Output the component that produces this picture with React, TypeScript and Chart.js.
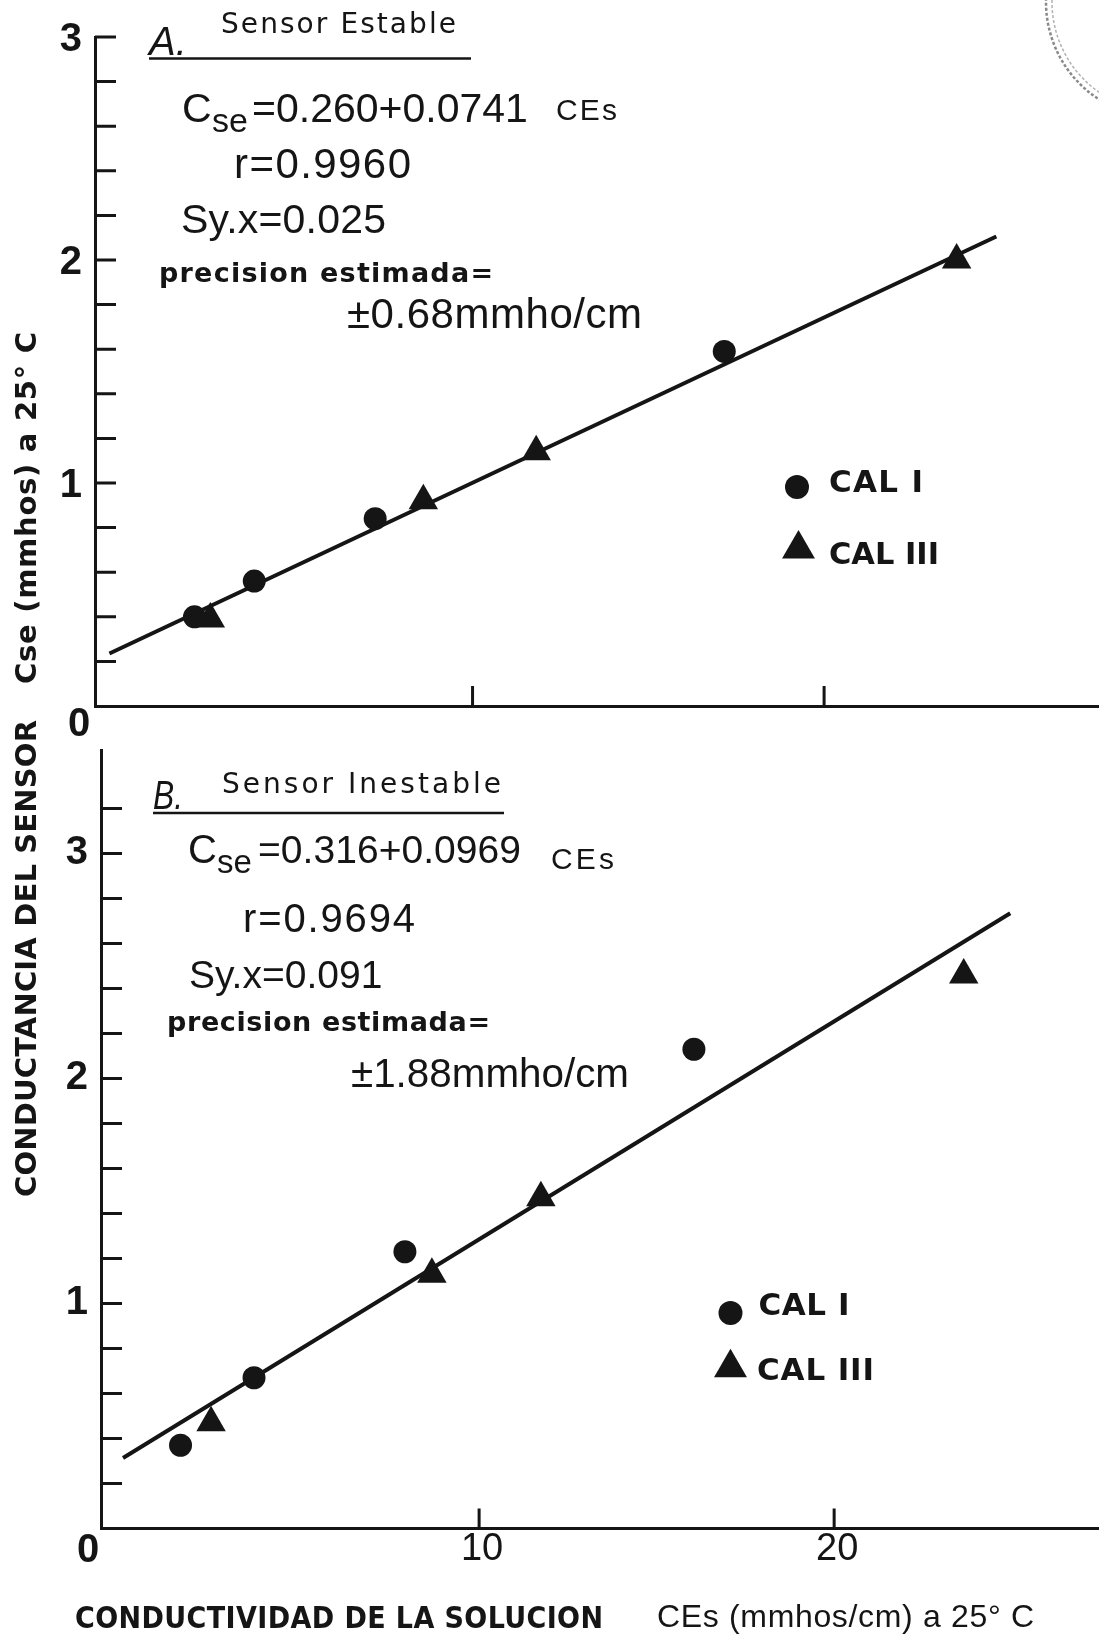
import React, { useEffect, useRef } from 'react';
import { Chart, registerables } from 'chart.js';

Chart.register(...registerables);

const INK = '#151515';
const W = 1099;
const H = 1636;

// ---------- Panel A: sensor estable ----------
const CAL_I_A_X = [2.09, 3.79, 7.23, 17.16];
const CAL_I_A_Y = [0.40, 0.56, 0.84, 1.59];
const CAL_III_A_X = [2.54, 8.6, 11.81, 23.77];
const CAL_III_A_Y = [0.39, 0.92, 1.14, 2.0];
const FIT_A = [0.26, 0.0741]; // intercept, slope
const FIT_A_SPAN = [-0.33, 24.9];
const STATS_A = { r: '0.9960', syx: '0.025', prec: '±0.68' };

// ---------- Panel B: sensor inestable ----------
const CAL_I_B_X = [1.59, 3.66, 7.91, 16.05];
const CAL_I_B_Y = [0.37, 0.67, 1.23, 2.13];
const CAL_III_B_X = [2.45, 8.67, 11.74, 23.65];
const CAL_III_B_Y = [0.47, 1.13, 1.47, 2.46];
const FIT_B = [0.316, 0.0969];
const FIT_B_SPAN = [-0.03, 24.96];
const STATS_B = { r: '0.9694', syx: '0.091', prec: '±1.88' };

// ---------- ticks ----------
const Y_TICKS_A = [0.2, 0.4, 0.6, 0.8, 1, 1.2, 1.4, 1.6, 1.8, 2, 2.2, 2.4, 2.6, 2.8, 3];
const Y_TICKS_B = [0.2, 0.4, 0.6, 0.8, 1, 1.2, 1.4, 1.6, 1.8, 2, 2.2, 2.4, 2.6, 2.8, 3, 3.2];
const X_TICKS = [10, 20];
const X_TICK_LABELS = ['10', '20'];

const SERIES_NAMES = ['CAL I', 'CAL III'];
const Y_TITLE = ['CONDUCTANCIA DEL SENSOR', 'Cse (mmhos) a 25° C'];
const X_TITLE = ['CONDUCTIVIDAD DE LA SOLUCION', 'CEs (mmhos/cm) a 25° C'];

const LIB = '"Liberation Sans", Arial, sans-serif';
const DJV = '"DejaVu Sans", sans-serif';

type Run = { text: string; x: number; y: number; w?: number; font: string };

function drawText(ctx: CanvasRenderingContext2D, r: Run) {
  ctx.save();
  ctx.font = r.font;
  ctx.fillStyle = INK;
  ctx.textAlign = 'left';
  ctx.textBaseline = 'alphabetic';
  const n = Array.from(r.text).length;
  const natural = ctx.measureText(r.text).width;
  if (r.w && n > 1 && Math.abs(r.w - natural) > 0.5) {
    if (r.w > natural && 'letterSpacing' in ctx) {
      (ctx as any).letterSpacing = `${(r.w - natural) / (n - 1)}px`;
      ctx.fillText(r.text, r.x, r.y);
    } else {
      ctx.translate(r.x, r.y);
      ctx.scale(r.w / natural, 1);
      ctx.fillText(r.text, 0, 0);
    }
  } else {
    ctx.fillText(r.text, r.x, r.y);
  }
  ctx.restore();
}

function drawVertical(ctx: CanvasRenderingContext2D, text: string, baseX: number, startY: number, endY: number, font: string) {
  ctx.save();
  ctx.translate(baseX, startY);
  ctx.rotate(-Math.PI / 2);
  drawText(ctx, { text, x: 0, y: 0, w: startY - endY, font });
  ctx.restore();
}

function drawMarker(ctx: CanvasRenderingContext2D, style: string, x: number, y: number, r: number) {
  ctx.save();
  ctx.fillStyle = INK;
  ctx.beginPath();
  if (style === 'circle') {
    ctx.arc(x, y, r, 0, Math.PI * 2);
  } else {
    const s = Math.sin((2 * Math.PI) / 3) * r;
    ctx.moveTo(x, y - r);
    ctx.lineTo(x + s, y + r / 2);
    ctx.lineTo(x - s, y + r / 2);
    ctx.closePath();
  }
  ctx.fill();
  ctx.restore();
}

// faint archive stamp partly visible in the top-right corner of the sheet
function drawStamp(ctx: CanvasRenderingContext2D) {
  ctx.save();
  ctx.setLineDash([3, 2]);
  ctx.lineWidth = 2.5;
  ctx.strokeStyle = 'rgba(60,60,60,0.6)';
  ctx.beginPath();
  ctx.arc(1162, 2, 116, Math.PI * 0.66, Math.PI * 1.02);
  ctx.stroke();
  ctx.lineWidth = 1.5;
  ctx.strokeStyle = 'rgba(60,60,60,0.4)';
  ctx.beginPath();
  ctx.arc(1162, 2, 110, Math.PI * 0.62, Math.PI * 1.02);
  ctx.stroke();
  ctx.restore();
}

type Layout = {
  letter: Run;
  underline: [number, number, number];
  title: Run;
  eqC: [number, number, number];
  eqSe: [number, number, number];
  eqRest: [number, number, number, number];
  ces: Run;
  r: [number, number, number, number];
  syx: [number, number, number, number];
  precLabel: Run;
  prec: [number, number, number, number];
  legendCircle: [number, number, number];
  legendTri: [number, number, number];
  legendText: [Run, Run];
  zero: [number, number, number];
};

function drawPanelText(ctx: CanvasRenderingContext2D, L: Layout, fit: number[], stats: { r: string; syx: string; prec: string }) {
  drawText(ctx, L.letter);
  ctx.save();
  ctx.strokeStyle = INK;
  ctx.lineWidth = 2.5;
  ctx.beginPath();
  ctx.moveTo(L.underline[0], L.underline[2]);
  ctx.lineTo(L.underline[1], L.underline[2]);
  ctx.stroke();
  ctx.restore();
  drawText(ctx, L.title);

  const eq = `=${fit[0].toFixed(3)}+${fit[1].toFixed(4)}`;
  drawText(ctx, { text: 'C', x: L.eqC[0], y: L.eqC[1], font: `${L.eqC[2]}px ${LIB}` });
  drawText(ctx, { text: 'se', x: L.eqSe[0], y: L.eqSe[1], font: `${L.eqSe[2]}px ${LIB}` });
  drawText(ctx, { text: eq, x: L.eqRest[0], y: L.eqRest[1], w: L.eqRest[2], font: `${L.eqRest[3]}px ${LIB}` });
  drawText(ctx, L.ces);
  drawText(ctx, { text: `r=${stats.r}`, x: L.r[0], y: L.r[1], w: L.r[2], font: `${L.r[3]}px ${LIB}` });
  drawText(ctx, { text: `Sy.x=${stats.syx}`, x: L.syx[0], y: L.syx[1], w: L.syx[2], font: `${L.syx[3]}px ${LIB}` });
  drawText(ctx, L.precLabel);
  drawText(ctx, { text: `${stats.prec}mmho/cm`, x: L.prec[0], y: L.prec[1], w: L.prec[2], font: `${L.prec[3]}px ${LIB}` });

  drawMarker(ctx, 'circle', L.legendCircle[0], L.legendCircle[1], L.legendCircle[2]);
  drawMarker(ctx, 'triangle', L.legendTri[0], L.legendTri[1], L.legendTri[2]);
  drawText(ctx, L.legendText[0]);
  drawText(ctx, L.legendText[1]);

  ctx.save();
  ctx.fillStyle = INK;
  ctx.font = `bold ${L.zero[2]}px ${LIB}`;
  ctx.textAlign = 'center';
  ctx.textBaseline = 'alphabetic';
  ctx.fillText('0', L.zero[0], L.zero[1]);
  ctx.restore();
}

const LAYOUT_A: Layout = {
  letter: { text: 'A.', x: 149, y: 55, w: 38, font: `italic 40px ${LIB}` },
  underline: [149, 471, 58.5],
  title: { text: 'Sensor Estable', x: 221, y: 33, w: 235, font: `28px ${DJV}` },
  eqC: [182, 122, 41],
  eqSe: [212, 132, 34],
  eqRest: [252, 122, 276, 41],
  ces: { text: 'CEs', x: 556, y: 120, w: 61, font: `30px ${LIB}` },
  r: [234, 178, 177, 42],
  syx: [181, 233, 205, 41],
  precLabel: { text: 'precision estimada=', x: 159, y: 282, w: 334, font: `bold 27px ${DJV}` },
  prec: [347, 328, 295, 42],
  legendCircle: [797, 487, 12],
  legendTri: [798.5, 549, 19],
  legendText: [
    { text: SERIES_NAMES[0], x: 829, y: 492, w: 94, font: `bold 31px ${DJV}` },
    { text: SERIES_NAMES[1], x: 829, y: 564, w: 110, font: `bold 31px ${DJV}` },
  ],
  zero: [79, 736, 40],
};

const LAYOUT_B: Layout = {
  letter: { text: 'B.', x: 153, y: 809, w: 30, font: `italic 40px ${LIB}` },
  underline: [153, 504, 813],
  title: { text: 'Sensor Inestable', x: 222, y: 793, w: 279, font: `28px ${DJV}` },
  eqC: [188, 863, 40],
  eqSe: [217, 873, 33],
  eqRest: [258, 863, 263, 39],
  ces: { text: 'CEs', x: 551, y: 869, w: 63, font: `30px ${LIB}` },
  r: [243, 932, 172, 40],
  syx: [189, 988, 193, 39],
  precLabel: { text: 'precision estimada=', x: 167, y: 1031, w: 323, font: `bold 27px ${DJV}` },
  prec: [351, 1087, 278, 41],
  legendCircle: [730.5, 1313, 12],
  legendTri: [730.5, 1367.7, 19],
  legendText: [
    { text: SERIES_NAMES[0], x: 758.5, y: 1315, w: 91, font: `bold 31px ${DJV}` },
    { text: SERIES_NAMES[1], x: 757, y: 1380, w: 117, font: `bold 31px ${DJV}` },
  ],
  zero: [88, 1562, 40],
};

function drawPageTitles(ctx: CanvasRenderingContext2D) {
  const f = `bold 29px ${DJV}`;
  drawVertical(ctx, Y_TITLE[0], 36, 1197, 720, f);
  drawVertical(ctx, Y_TITLE[1], 36, 684, 332, f);
  drawText(ctx, { text: X_TITLE[0], x: 75, y: 1628, w: 528, font: `bold 30px "DejaVu Sans Condensed", ${DJV}` });
  drawText(ctx, { text: X_TITLE[1], x: 657, y: 1627, w: 377, font: `32px ${LIB}` });
  drawStamp(ctx);
}

type Panel = {
  iX: number[]; iY: number[]; iiiX: number[]; iiiY: number[];
  fit: number[]; span: number[];
  stats: { r: string; syx: string; prec: string };
  yTicks: number[];
  xMin: number; xMax: number; yMax: number;
  axisW: number; axisH: number; padTop: number; padBottom: number;
  labelOffset: number; xLabels: boolean;
  layout: Layout; page: boolean;
};

const PANEL_A: Panel = {
  iX: CAL_I_A_X, iY: CAL_I_A_Y, iiiX: CAL_III_A_X, iiiY: CAL_III_A_Y,
  fit: FIT_A, span: FIT_A_SPAN, stats: STATS_A, yTicks: Y_TICKS_A,
  xMin: -0.74, xMax: 27.82, yMax: 3.0,
  axisW: 95, axisH: 0, padTop: 33, padBottom: 930,
  labelOffset: 3, xLabels: false, layout: LAYOUT_A, page: false,
};

const PANEL_B: Panel = {
  iX: CAL_I_B_X, iY: CAL_I_B_Y, iiiX: CAL_III_B_X, iiiY: CAL_III_B_Y,
  fit: FIT_B, span: FIT_B_SPAN, stats: STATS_B, yTicks: Y_TICKS_B,
  xMin: -0.65, xMax: 27.46, yMax: 3.46,
  axisW: 101, axisH: 45, padTop: 750, padBottom: 62.5,
  labelOffset: -1, xLabels: true, layout: LAYOUT_B, page: true,
};

function isWhole(v: number) {
  return Math.abs(v - Math.round(v)) < 1e-6;
}

function buildConfig(p: Panel): any {
  const pts = (xs: number[], ys: number[]) => xs.map((x, i) => ({ x, y: ys[i] }));
  const decor = {
    id: 'panelDecor',
    afterDraw(chart: any) {
      const ctx = chart.ctx as CanvasRenderingContext2D;
      const area = chart.chartArea;
      const xs = chart.scales.x;
      const ys = chart.scales.y;
      ctx.save();
      ctx.strokeStyle = INK;
      ctx.lineWidth = 3;
      ctx.beginPath();
      for (const v of p.yTicks) {
        const py = ys.getPixelForValue(v);
        ctx.moveTo(area.left, py);
        ctx.lineTo(area.left + 21, py);
      }
      for (const v of X_TICKS) {
        const px = xs.getPixelForValue(v);
        ctx.moveTo(px, area.bottom);
        ctx.lineTo(px, area.bottom - 20);
      }
      ctx.stroke();
      ctx.restore();
      drawPanelText(ctx, p.layout, p.fit, p.stats);
      if (p.page) drawPageTitles(ctx);
    },
  };

  return {
    type: 'scatter',
    data: {
      datasets: [
        {
          label: 'ajuste',
          data: p.span.map((x) => ({ x, y: p.fit[0] + p.fit[1] * x })),
          showLine: true,
          pointRadius: 0,
          borderColor: INK,
          borderWidth: 4,
          fill: false,
        },
        {
          label: SERIES_NAMES[0],
          data: pts(p.iX, p.iY),
          pointStyle: 'circle',
          pointRadius: 11.5,
          backgroundColor: INK,
          borderColor: INK,
          borderWidth: 0,
        },
        {
          label: SERIES_NAMES[1],
          data: pts(p.iiiX, p.iiiY),
          pointStyle: 'triangle',
          pointRadius: 17,
          backgroundColor: INK,
          borderColor: INK,
          borderWidth: 0,
        },
      ],
    },
    options: {
      responsive: false,
      animation: false,
      devicePixelRatio: 1,
      events: [],
      layout: { autoPadding: false, padding: { left: 0, right: 0, top: p.padTop, bottom: p.padBottom } },
      plugins: { legend: { display: false }, tooltip: { enabled: false } },
      scales: {
        x: {
          type: 'linear',
          min: p.xMin,
          max: p.xMax,
          afterBuildTicks: (s: any) => {
            s.ticks = X_TICKS.map((v) => ({ value: v }));
          },
          afterFit: (s: any) => {
            s.height = p.axisH;
          },
          grid: { display: false, drawTicks: false },
          border: { display: true, width: 3, color: INK },
          ticks: {
            display: p.xLabels,
            autoSkip: false,
            maxRotation: 0,
            padding: 0,
            labelOffset: 3,
            color: INK,
            font: { family: 'Liberation Sans', size: 38, lineHeight: 1.1 },
            callback: (v: number) => {
              const i = X_TICKS.indexOf(v);
              return i >= 0 ? X_TICK_LABELS[i] : '';
            },
          },
        },
        y: {
          type: 'linear',
          min: 0,
          max: p.yMax,
          afterBuildTicks: (s: any) => {
            s.ticks = p.yTicks.map((v) => ({ value: v }));
          },
          afterFit: (s: any) => {
            s.width = p.axisW;
          },
          grid: { display: false, drawTicks: false },
          border: { display: true, width: 3, color: INK },
          ticks: {
            autoSkip: false,
            padding: 13,
            labelOffset: p.labelOffset,
            color: INK,
            font: { family: 'Liberation Sans', size: 40, weight: 'bold' },
            callback: (v: number) => (isWhole(v) && Math.round(v) !== 0 ? String(Math.round(v)) : ''),
          },
        },
      },
    },
    plugins: [decor],
  };
}

export default function App() {
  const refA = useRef<HTMLCanvasElement>(null);
  const refB = useRef<HTMLCanvasElement>(null);

  useEffect(() => {
    const a = new Chart(refA.current as HTMLCanvasElement, buildConfig(PANEL_A));
    const b = new Chart(refB.current as HTMLCanvasElement, buildConfig(PANEL_B));
    return () => {
      a.destroy();
      b.destroy();
    };
  }, []);

  const canvasStyle: React.CSSProperties = { position: 'absolute', left: 0, top: 0, width: W, height: H };

  return (
    <div style={{ position: 'absolute', left: 0, top: 0, width: W, height: H, background: '#ffffff', overflow: 'hidden' }}>
      <canvas ref={refA} width={W} height={H} style={canvasStyle} />
      <canvas ref={refB} width={W} height={H} style={canvasStyle} />
    </div>
  );
}
